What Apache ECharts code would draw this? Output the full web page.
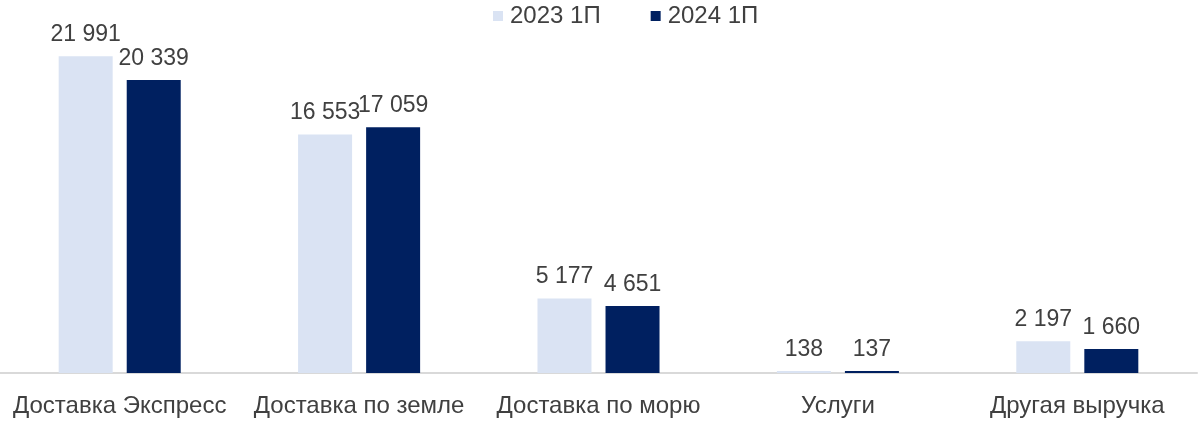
<!DOCTYPE html>
<html>
<head>
<meta charset="utf-8">
<script src="https://cdn.jsdelivr.net/npm/echarts@6/dist/echarts.min.js"></script>
<style>html,body{margin:0;padding:0;background:#fff}#c{width:1202px;height:437px}</style>
</head>
<body>
<div id="c"></div>
<script>
const categories = ['Доставка Экспресс', 'Доставка по земле', 'Доставка по морю', 'Услуги', 'Другая выручка'];
const seriesNames = ['2023 1П', '2024 1П'];
const values2023 = [21991, 16553, 5177, 138, 2197];
const values2024 = [20339, 17059, 4651, 137, 1660];

const fmt = v => String(v).replace(/\B(?=(\d{3})+(?!\d))/g, ' ');
const font = '"Liberation Sans", Arial, sans-serif';
const chart = echarts.init(document.getElementById('c'), null, {renderer: 'canvas'});
const labelCfg = {show: true, position: 'top', distance: 10, fontSize: 23, color: '#404040', fontFamily: font,
  formatter: p => fmt(p.value)};
chart.setOption({
  animation: false,
  legend: {
    top: 4, left: 488, padding: [0, 5],
    itemWidth: 10, itemHeight: 10, itemGap: 50,
    icon: 'rect',
    textStyle: {fontSize: 24, color: '#404040', fontFamily: font, padding: [0, 0, 0, 2]},
    data: seriesNames
  },
  grid: {left: 0, right: 5, top: 56, bottom: 64, containLabel: false},
  xAxis: {
    type: 'category', data: categories,
    axisLine: {lineStyle: {color: '#D9D9D9', width: 2}},
    axisTick: {show: false},
    axisLabel: {fontSize: 24, color: '#404040', fontFamily: font, margin: 21, interval: 0}
  },
  yAxis: {type: 'value', min: 0, max: 22000, show: false, splitLine: {show: false}},
  series: [
    {name: seriesNames[0], type: 'bar', data: values2023, barWidth: 54, barGap: '26%',
      itemStyle: {color: '#DAE3F3'}, label: labelCfg},
    {name: seriesNames[1], type: 'bar', data: values2024, barWidth: 54,
      itemStyle: {color: '#002060'}, label: labelCfg}
  ]
});
</script>
</body>
</html>
